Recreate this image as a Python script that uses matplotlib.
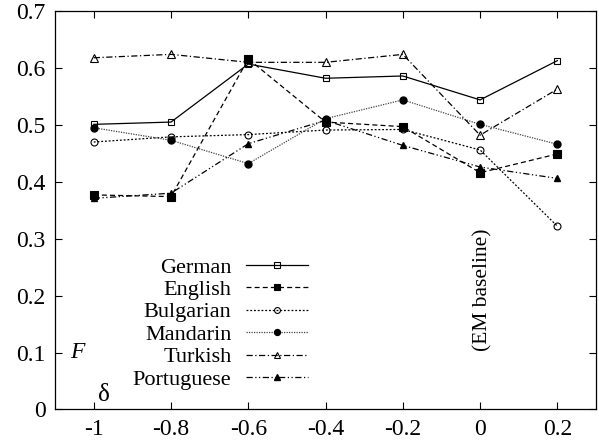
import numpy as np
import matplotlib
matplotlib.use('Agg')
import matplotlib.pyplot as plt

plt.rcParams['font.family'] = ['Liberation Serif', 'DejaVu Serif']

deltas = [-1, -0.8, -0.6, -0.4, -0.2, 0, 0.2]
german = [0.501, 0.505, 0.607, 0.582, 0.586, 0.544, 0.613]
english = [0.377, 0.374, 0.616, 0.505, 0.497, 0.416, 0.449]
bulgarian = [0.470, 0.479, 0.483, 0.491, 0.492, 0.456, 0.322]
mandarin = [0.495, 0.473, 0.432, 0.511, 0.544, 0.501, 0.466]
turkish = [0.618, 0.624, 0.610, 0.610, 0.624, 0.482, 0.563]
portuguese = [0.371, 0.380, 0.467, 0.508, 0.464, 0.426, 0.406]

xticks = [-1, -0.8, -0.6, -0.4, -0.2, 0, 0.2]
xticklabels = ['-1', '-0.8', '-0.6', '-0.4', '-0.2', '0', '0.2']
yticks = [0, 0.1, 0.2, 0.3, 0.4, 0.5, 0.6, 0.7]
yticklabels = ['0', '0.1', '0.2', '0.3', '0.4', '0.5', '0.6', '0.7']

fig = plt.figure(figsize=(5.99, 4.45), dpi=100)
ax = fig.add_axes([0.092, 0.080, 0.903, 0.895])

lw = 0.9
ax.plot(deltas, german, color='k', lw=lw, ls='-', marker='s', ms=5, mfc='none', mew=0.8, label='German')
ax.plot(deltas, english, color='k', lw=lw, ls=(0, (4, 2.5)), marker='s', ms=5.5, mew=0.8, label='English')
ax.plot(deltas, bulgarian, color='k', lw=lw, ls=(0, (1.5, 1.5)), marker='o', ms=5, mfc='none', mew=0.8, label='Bulgarian')
ax.plot(deltas, mandarin, color='#444444', lw=lw, ls=(0, (1, 1)), marker='o', ms=5, mfc='k', mec='k', label='Mandarin')
ax.plot(deltas, turkish, color='k', lw=lw, ls=(0, (5, 2, 1, 2)), marker='^', ms=5.5, mfc='none', mew=0.8, label='Turkish')
ax.plot(deltas, portuguese, color='k', lw=lw, ls=(0, (5, 2, 1, 2, 1, 2)), marker='^', ms=4.5, label='Portuguese')

ax.set_xlim(-1.1, 0.3)
ax.set_ylim(0, 0.7)
ax.set_xticks(xticks)
ax.set_xticklabels(xticklabels)
ax.set_yticks(yticks)
ax.set_yticklabels(yticklabels)
ax.tick_params(direction='in', length=5, width=0.8, labelsize=17, top=True, right=True, pad=7)
for s in ax.spines.values():
    s.set_linewidth(0.9)

leg = ax.legend(loc='lower right', bbox_to_anchor=(0.484, 0.027), frameon=False, fontsize=16,
                markerfirst=False, handlelength=2.8, labelspacing=0.085, handletextpad=0.65,
                borderaxespad=0, markerscale=0.85)
for t in leg.get_texts():
    t.set_ha('right')
leg._legend_box.align = 'right'

ax.text(-1.06, 0.1, 'F', fontsize=17, style='italic', ha='left', va='center')
ax.text(-0.99, 0.025, 'δ', fontsize=18, ha='left', va='center')
ax.text(0.008, 0.21, '(EM baseline)', fontsize=15.5, rotation=90, ha='center', va='center')

fig.savefig('out.png', dpi=100)
